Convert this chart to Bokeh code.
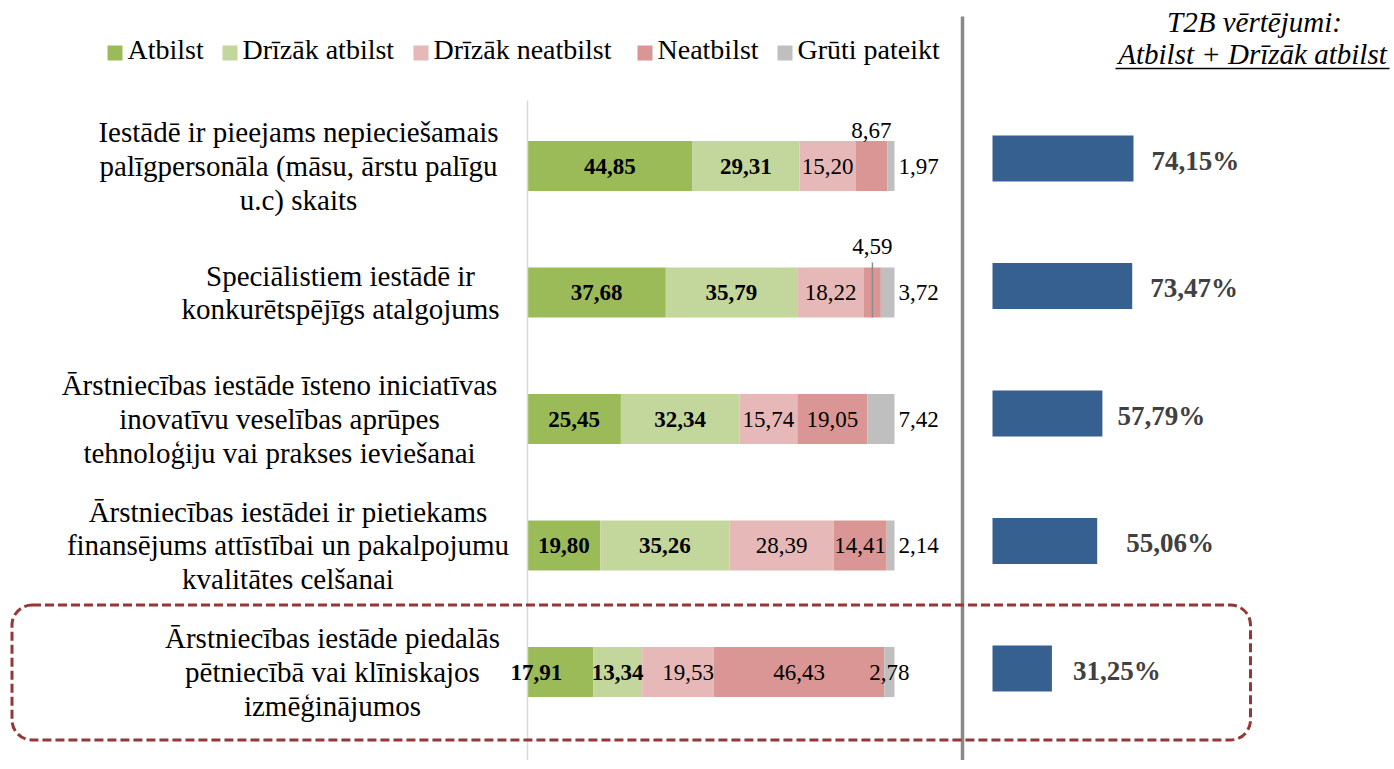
from bokeh.plotting import figure
from bokeh.models import Range1d, BoxAnnotation
from bokeh.core.properties import value
from bokeh.embed import file_html
from bokeh.resources import INLINE

# ---------------- data ----------------
categories = [
    "Iestādē ir pieejams nepieciešamais\npalīgpersonāla (māsu, ārstu palīgu\nu.c) skaits",
    "Speciālistiem iestādē ir\nkonkurētspējīgs atalgojums",
    "Ārstniecības iestāde īsteno iniciatīvas\ninovatīvu veselības aprūpes\ntehnoloģiju vai prakses ieviešanai",
    "Ārstniecības iestādei ir pietiekams\nfinansējums attīstībai un pakalpojumu\nkvalitātes celšanai",
    "Ārstniecības iestāde piedalās\npētniecībā vai klīniskajos\nizmēģinājumos",
]
series = ["Atbilst", "Drīzāk atbilst", "Drīzāk neatbilst", "Neatbilst", "Grūti pateikt"]
atbilst = [44.85, 37.68, 25.45, 19.80, 17.91]
drizak_atbilst = [29.31, 35.79, 32.34, 35.26, 13.34]
drizak_neatbilst = [15.20, 18.22, 15.74, 28.39, 19.53]
neatbilst = [8.67, 4.59, 19.05, 14.41, 46.43]
gruti_pateikt = [1.97, 3.72, 7.42, 2.14, 2.78]
t2b = [74.15, 73.47, 57.79, 55.06, 31.25]
t2b_title = ["T2B vērtējumi:", "Atbilst + Drīzāk atbilst"]

# ---------------- style ----------------
colors = ["#9BBB59", "#C3D69B", "#E6B9B8", "#D99694", "#BFBFBF"]
t2b_color = "#36608F"
FONT = value("Liberation Serif")
OX, OY = 1, 0          # page position of the figure's top-left corner
W, H = 1390, 760

# page-pixel -> data helpers (layout only)
PX_X = 3.67      # px per percent, left chart
X0 = 528         # page x of 0%
PX_XR = 1.9016   # px per percent, right chart
XR0 = 993
ROW0 = 165.5     # page y of first row centre (left chart)
ROW_STEP = 126.5
RROW0 = 158      # page y of first row centre (right chart)
RROW_STEP = 127.5


def X(px):
    return (px - X0) / PX_X


def Y(py):
    return -(py - ROW0) / ROW_STEP


p = figure(width=W, height=H,
           x_range=Range1d(X(OX), X(OX + W)),
           y_range=Range1d(Y(OY + H), Y(OY)),
           output_backend="svg", toolbar_location=None,
           x_axis_location=None, y_axis_location=None,
           min_border=0, background_fill_color="white", border_fill_color="white")
p.extra_x_ranges = {"t2b": Range1d((OX - XR0) / PX_XR, (OX + W - XR0) / PX_XR)}
p.extra_y_ranges = {"t2b_y": Range1d(-(OY + H - RROW0) / RROW_STEP, -(OY - RROW0) / RROW_STEP)}
p.outline_line_color = None
p.grid.visible = False

ypos = [-i for i in range(len(categories))]
bar_h = 50 / ROW_STEP
rbar_h = 46 / RROW_STEP

# ---- left stacked bars ----
src = {"y": ypos}
values = [atbilst, drizak_atbilst, drizak_neatbilst, neatbilst, gruti_pateikt]
for name, vals in zip(series, values):
    src[name] = vals
p.hbar_stack(series, y="y", height=bar_h, fill_color=colors, line_color=None, source=src)

# thin axis line at 0%
p.segment(x0=[0], y0=[Y(100)], x1=[0], y1=[Y(OY + H)], line_color="#D9D9D9", line_width=1.5)

# ---- value labels ----
placement = {(0, 3): ("above", -36), (1, 3): ("above", -46),
             (0, 4): ("right", 0), (1, 4): ("right", 0), (2, 4): ("right", 0), (3, 4): ("right", 0)}
x_nudge = {(4, 0): -24, (4, 2): 10}

groups = {}
for r in range(len(categories)):
    cum = 0.0
    for s, vals in enumerate(values):
        v = vals[r]
        center = cum + v / 2
        txt = f"{v:.2f}".replace(".", ",")
        mode, yo = placement.get((r, s), ("inside", 0))
        if mode == "right":
            x, align, xo = sum(vv[r] for vv in values), "left", 4
        else:
            x, align, xo = center, "center", x_nudge.get((r, s), 0)
        key = ("bold" if s < 2 else "normal", align)
        g = groups.setdefault(key, {"x": [], "y": [], "t": [], "xo": [], "yo": []})
        g["x"].append(x); g["y"].append(ypos[r]); g["t"].append(txt)
        g["xo"].append(xo); g["yo"].append(yo)
        if (r, s) == (1, 3):
            p.segment(x0=[center], y0=[ypos[r] - bar_h / 2], x1=[center],
                      y1=[ypos[r] + bar_h / 2 + 5 / ROW_STEP],
                      line_color="#8C8C8C", line_width=1.5)
        cum += v

for (style, align), g in groups.items():
    p.text(x=g["x"], y=g["y"], text=g["t"], x_offset=g["xo"], y_offset=g["yo"],
           text_align=align, text_baseline="middle", text_font=FONT,
           text_font_size="23px", text_font_style=style, text_color="black")

# ---- category labels ----
label_cx = [299, 341, 280, 288.5, 333]
p.text(x=[X(c) for c in label_cx], y=ypos, text=categories, text_align="center",
       text_baseline="middle", text_font=FONT, text_font_size="29px",
       text_line_height=1.06, text_color="black")

# ---- legend (manual) ----
legend_text_x = [128, 243, 434, 658, 798]
p.rect(x=[X(t - 12.5) for t in legend_text_x], y=[Y(52.5)] * 5, width=15, height=15,
       width_units="screen", height_units="screen", fill_color=colors, line_color=None)
p.text(x=[X(t) for t in legend_text_x], y=[Y(49)] * 5, text=series, text_align="left",
       text_baseline="middle", text_font=FONT, text_font_size="28px", text_color="black")

# ---- divider ----
p.segment(x0=[X(963)], y0=[Y(16)], x1=[X(963)], y1=[Y(OY + H)], line_color="#898989", line_width=3.5)

# ---- right T2B bars ----
yr = [-i for i in range(len(t2b))]
p.hbar(y=yr, left=0, right=t2b, height=rbar_h, x_range_name="t2b", y_range_name="t2b_y",
       fill_color=t2b_color, line_color=None)
t2b_nudge = [0, 0, -3, 11, 3]
p.text(x=t2b, y=yr, text=[f"{v:.2f}".replace(".", ",") + "%" for v in t2b],
       x_range_name="t2b", y_range_name="t2b_y", x_offset=[18 + n for n in t2b_nudge],
       y_offset=2, text_align="left", text_baseline="middle",
       text_font=FONT, text_font_size="27px", text_font_style="bold", text_color="#404040")

# title on the right
p.text(x=[X(1255), X(1253)], y=[Y(21), Y(53)], text=t2b_title, text_align="center",
       text_baseline="middle", text_font=FONT, text_font_size="29px",
       text_font_style="italic", text_color="black")
p.segment(x0=[X(1116)], y0=[Y(68)], x1=[X(1390)], y1=[Y(68)], line_color="black", line_width=1.5)

# ---- dashed rounded highlight box ----
box = BoxAnnotation(left=X(12.5), right=X(1251), top=Y(604.5), bottom=Y(739.5),
                    fill_alpha=0, line_color="#953735", line_alpha=1, line_width=3,
                    line_dash="9 4", border_radius=20)
p.add_layout(box)

open("out.html", "w").write(file_html(p, INLINE))
